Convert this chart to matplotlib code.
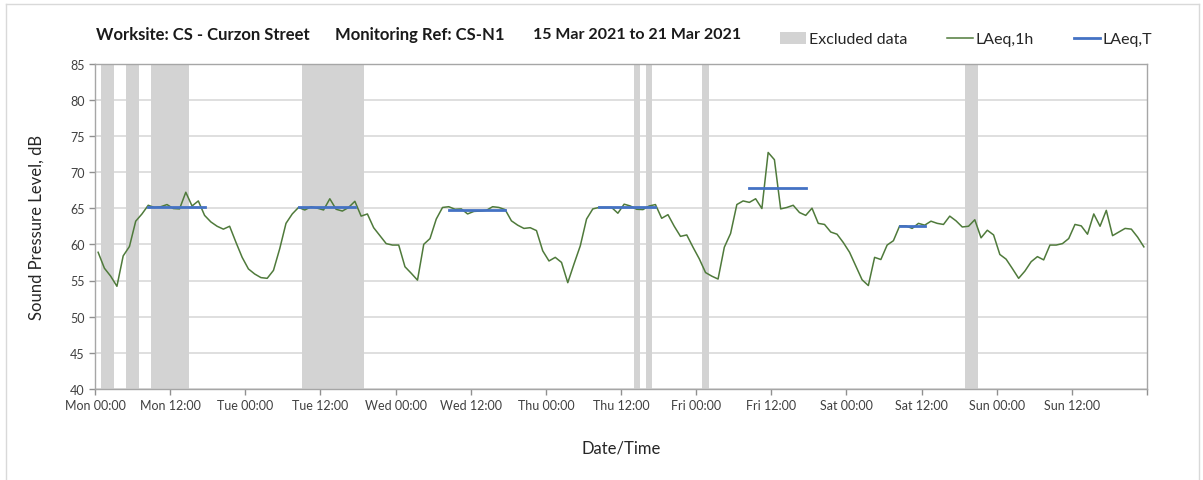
import matplotlib
matplotlib.use("Agg")
import matplotlib.pyplot as plt
from matplotlib.patches import Patch
from matplotlib.lines import Line2D
import numpy as np

W, H = 1203, 481

# hourly LAeq,1h values, one list per day (Mon 15 Mar .. Sun 21 Mar 2021)
mon = [58.9, 56.7, 55.6, 54.2, 58.4, 59.7, 63.2, 64.2, 65.4, 65.1, 65.2, 65.5,
       64.95, 64.9, 67.2, 65.3, 66.0, 64.0, 63.1, 62.5, 62.1, 62.5, 60.3, 58.2]
tue = [56.6, 55.9, 55.4, 55.3, 56.4, 59.4, 62.9, 64.2, 65.1, 64.75, 65.2, 65.0,
       64.75, 66.3, 64.85, 64.6, 65.1, 65.95, 63.9, 64.2, 62.3, 61.2, 60.1, 59.9]
wed = [59.9, 56.9, 56.0, 55.05, 60.0, 60.8, 63.5, 65.1, 65.2, 64.85, 64.9, 64.2,
       64.55, 64.6, 64.7, 65.2, 65.1, 64.8, 63.25, 62.65, 62.2, 62.3, 61.9, 59.1]
thu = [57.7, 58.2, 57.5, 54.7, 57.3, 59.8, 63.5, 64.9, 65.1, 65.1, 65.1, 64.3,
       65.55, 65.3, 64.85, 64.8, 65.3, 65.5, 63.6, 64.1, 62.5, 61.1, 61.3, 59.6]
fri = [58.0, 56.1, 55.6, 55.2, 59.6, 61.5, 65.5, 66.0, 65.8, 66.3, 64.95, 72.7,
       71.7, 64.9, 65.1, 65.4, 64.4, 64.0, 65.0, 62.9, 62.75, 61.7, 61.4, 60.25]
sat = [58.9, 57.0, 55.1, 54.3, 58.2, 57.9, 59.9, 60.5, 62.55, 62.55, 62.2, 62.9,
       62.65, 63.2, 62.9, 62.75, 63.9, 63.25, 62.4, 62.5, 63.4, 60.9, 61.95, 61.3]
sun = [58.6, 57.95, 56.65, 55.3, 56.3, 57.6, 58.3, 57.85, 59.9, 59.9, 60.1, 60.8,
       62.75, 62.55, 61.4, 64.2, 62.5, 64.7, 61.2, 61.7, 62.2, 62.1, 61.0, 59.65]

laeq_1h = mon + tue + wed + thu + fri + sat + sun
hours = np.arange(len(laeq_1h)) + 0.5   # hours from Mon 00:00

# excluded data periods (start hour, end hour)
excl_start = [1, 5, 9, 33, 86, 88, 97, 139]
excl_end = [3, 7, 15, 43, 87, 89, 98, 141]

# LAeq,T over working periods
period_start = [8.5, 32.5, 56.5, 80.5, 104.5, 128.5]
period_end = [17.5, 41.5, 65.5, 89.5, 113.5, 132.5]
laeq_t = [65.2, 65.1, 64.8, 65.1, 67.8, 62.5]

tick_labels = ["Mon 00:00", "Mon 12:00", "Tue 00:00", "Tue 12:00", "Wed 00:00",
               "Wed 12:00", "Thu 00:00", "Thu 12:00", "Fri 00:00", "Fri 12:00",
               "Sat 00:00", "Sat 12:00", "Sun 00:00", "Sun 12:00", ""]

plt.rcParams['font.family'] = ['Lato', 'DejaVu Sans']

fig = plt.figure(figsize=(W / 100, H / 100), dpi=100)
ax = fig.add_axes([95 / W, 1 - 390 / H, (1147 - 95) / W, (390 - 64.5) / H])

for s, e in zip(excl_start, excl_end):
    ax.axvspan(s, e, color='#d3d3d3', lw=0, zorder=1)

ax.plot(hours, laeq_1h, color='#4f7a3b', lw=1.1, zorder=3)
for s, e, v in zip(period_start, period_end, laeq_t):
    ax.plot([s, e], [v, v], color='#4472c4', lw=2.0, zorder=4)

ax.set_xlim(0, 168)
ax.set_ylim(40, 85)
ax.set_yticks(range(40, 86, 5))
ax.set_xticks(range(0, 169, 12))
ax.set_xticklabels(tick_labels, fontsize=9, color='#404040')
ax.set_xticks(range(24, 168, 24), minor=True)
ax.tick_params(axis='y', labelsize=9, labelcolor='#404040')
ax.tick_params(which='major', direction='out', length=4, color='#909090', width=1)
ax.tick_params(which='minor', length=0)
ax.grid(axis='y', which='major', color='#d9d9d9', lw=1.2, zorder=0)
ax.grid(axis='x', which='minor', color='#e0e0e0', lw=1.2, zorder=0)
ax.set_axisbelow(True)
for sp in ax.spines.values():
    sp.set_color('#a6a6a6')
    sp.set_linewidth(1.0)

ax.set_xlabel("Date/Time", fontsize=12, color='#262626', labelpad=20)
ax.set_ylabel("Sound Pressure Level, dB", fontsize=12, color='#262626', labelpad=18)

# title pieces
fig.text(96.5 / W, 1 - 35 / H, "Worksite: CS - Curzon Street", fontsize=12,
         fontweight='bold', va='center', ha='left', color='#1a1a1a')
fig.text(335 / W, 1 - 35 / H, "Monitoring Ref: CS-N1", fontsize=12,
         fontweight='bold', va='center', ha='left', color='#1a1a1a')
fig.text(533 / W, 1 - 35 / H, "15 Mar 2021 to 21 Mar 2021", fontsize=11.5,
         fontweight='bold', va='center', ha='left', color='#1a1a1a')

handles = [Patch(facecolor='#d3d3d3', edgecolor='none'),
           Line2D([], [], color='#4f7a3b', lw=1.1),
           Line2D([], [], color='#4472c4', lw=2.0)]
fig.legend(handles, ["Excluded data", "LAeq,1h", "LAeq,T"], ncol=3,
           loc='center left', bbox_to_anchor=(772 / W, 1 - 40 / H),
           frameon=False, fontsize=11.5, handlelength=1.6, handleheight=0.8,
           handletextpad=0.2, columnspacing=2.5, borderpad=0, labelcolor='#262626')

# outer chart frame
fig.add_artist(Line2D([5.5 / W, 5.5 / W], [0, 1 - 4.5 / H], color='#d9d9d9', lw=1))
fig.add_artist(Line2D([5.5 / W, 1199 / W], [1 - 4.5 / H, 1 - 4.5 / H], color='#d9d9d9', lw=1))
fig.add_artist(Line2D([1199 / W, 1199 / W], [0, 1 - 4.5 / H], color='#d9d9d9', lw=1))

fig.savefig("out.png", dpi=100)
